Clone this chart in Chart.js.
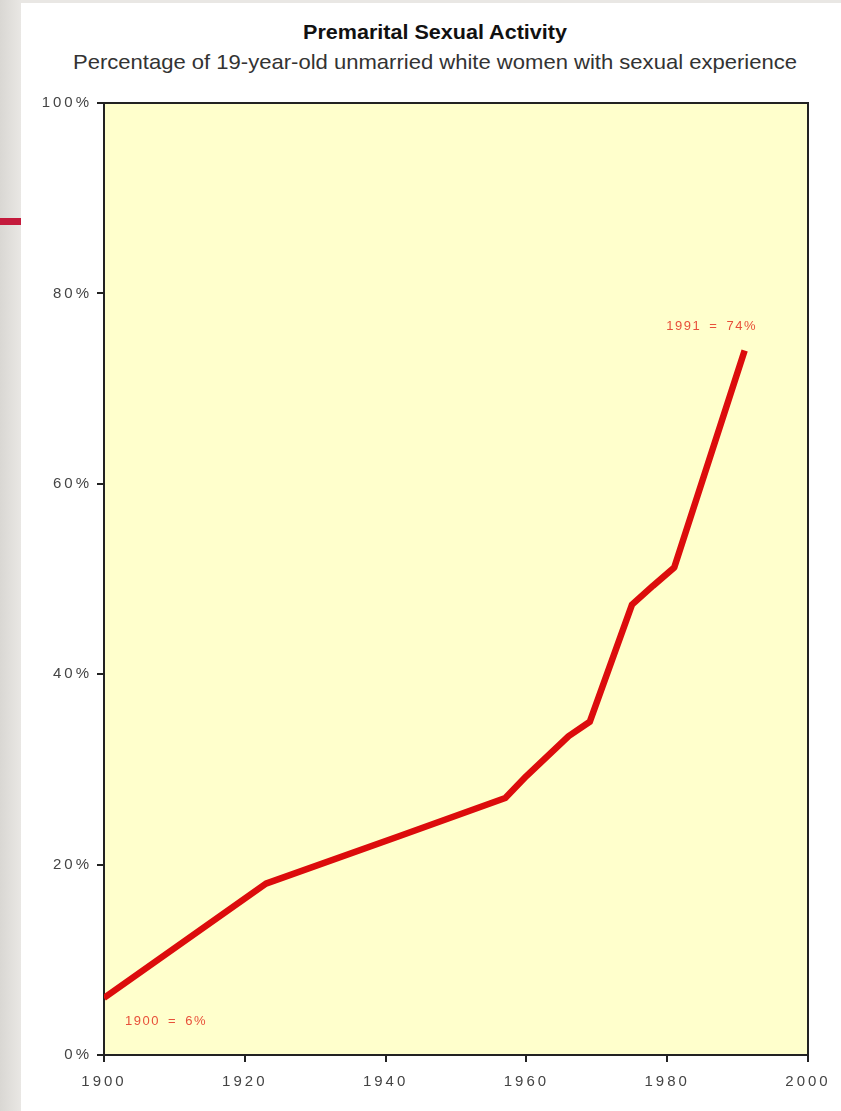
<!DOCTYPE html>
<html><head><meta charset="utf-8">
<script src="https://cdn.jsdelivr.net/npm/chart.js@4"></script>
<style>
html,body{margin:0;padding:0;}
body{width:841px;height:1111px;position:relative;overflow:hidden;background:linear-gradient(to right,#d9d7d3,#e9e7e4 21px);}
#panel{position:absolute;left:21px;top:3px;right:0;bottom:0;background:#fff;}
#redbar{position:absolute;left:0;top:218px;width:21px;height:7px;background:#c41a3c;}
.t{position:absolute;left:0;white-space:nowrap;font-family:Arial,"Liberation Sans",sans-serif;font-size:21px;line-height:21px;transform-origin:0 0;}
#title{font-weight:bold;color:#111;top:21px;}
#subtitle{color:#333;top:51px;}
canvas{position:absolute;left:0;top:0;}
</style></head>
<body>
<div id="panel"></div><div id="redbar"></div>
<div class="t" id="title"></div>
<div class="t" id="subtitle"></div>
<canvas id="c" width="841" height="1111"></canvas>
<script>
const titleText = 'Premarital Sexual Activity';
const subtitleText = 'Percentage of 19-year-old unmarried white women with sexual experience';

const years    = [1900, 1923, 1942, 1957, 1960, 1966, 1969, 1975, 1978, 1981, 1991];
const percents = [6,    18,   23,   27,   29.3, 33.5, 35,   47.3, 49.3, 51.2, 74];

const xTicks = [1900, 1920, 1940, 1960, 1980, 2000];
const yTicks = [0, 20, 40, 60, 80, 100];

const annotYears  = [1900, 1991];
const annotValues = [6, 74];
const annotLabels = ['1900 = 6%', '1991 = 74%'];

// Title / subtitle as HTML text, compressed to match condensed face
function fitText(id, text, width, center) {
  const el = document.getElementById(id);
  el.textContent = text;
  const w = el.getBoundingClientRect().width;
  const s = width / w;
  el.style.transform = 'scaleX(' + s + ')';
  el.style.left = (center - width / 2) + 'px';
}
fitText('title', titleText, 264, 435);
fitText('subtitle', subtitleText, 724, 435);

const plotDecor = {
  id: 'plotDecor',
  beforeDraw(chart) {
    const ctx = chart.ctx, a = chart.chartArea;
    ctx.save();
    ctx.fillStyle = '#ffffcc';
    ctx.fillRect(a.left, a.top, a.right - a.left, a.bottom - a.top);
    ctx.restore();
    ctx.letterSpacing = '3px';
  },
  beforeDatasetsDraw(chart) {
    const ctx = chart.ctx, a = chart.chartArea;
    ctx.letterSpacing = '0px';
    ctx.save();
    ctx.strokeStyle = '#222';
    ctx.lineWidth = 2;
    ctx.strokeRect(a.left, a.top, a.right - a.left, a.bottom - a.top);
    ctx.restore();
  },
  afterDatasetsDraw(chart) {
    const ctx = chart.ctx;
    const xs = chart.scales.x, ys = chart.scales.y;
    ctx.save();
    ctx.letterSpacing = '1.5px';
    ctx.wordSpacing = '3px';
    ctx.font = '13px Arial, "Liberation Sans", sans-serif';
    ctx.fillStyle = '#e8503a';
    ctx.textBaseline = 'middle';
    annotLabels.forEach((lab, i) => {
      const px = xs.getPixelForValue(annotYears[i]);
      const py = ys.getPixelForValue(annotValues[i]);
      if (i === 0) {
        ctx.textAlign = 'left';
        ctx.fillText(lab, px + 21, py + 24);
      } else {
        ctx.textAlign = 'center';
        ctx.fillText(lab, px - 33, py - 24);
      }
    });
    ctx.restore();
  },
  afterDraw(chart) {
    chart.ctx.letterSpacing = '0px';
  }
};

new Chart(document.getElementById('c'), {
  type: 'line',
  data: {
    datasets: [{
      data: years.map((y, i) => ({ x: y, y: percents[i] })),
      borderColor: '#dc0c0c',
      borderWidth: 6.5,
      pointRadius: 0,
      tension: 0,
      borderCapStyle: 'butt',
      borderJoinStyle: 'round',
      fill: false
    }]
  },
  options: {
    responsive: false,
    animation: false,
    devicePixelRatio: 1,
    layout: { padding: { left: 34, top: 103, right: 33, bottom: 6 } },
    plugins: { legend: { display: false }, tooltip: { enabled: false } },
    scales: {
      x: {
        type: 'linear', min: 1900, max: 2000,
        afterBuildTicks: s => { s.ticks = xTicks.map(v => ({ value: v })); },
        afterFit: s => { s.height = 50; },
        border: { display: false },
        grid: { drawOnChartArea: false, drawTicks: true, tickLength: 7, color: '#222', lineWidth: 2 },
        ticks: { callback: v => String(v), color: '#444', padding: 11, maxRotation: 0,
                 font: { family: 'Arial, "Liberation Sans", sans-serif', size: 15 } }
      },
      y: {
        type: 'linear', min: 0, max: 100,
        afterBuildTicks: s => { s.ticks = yTicks.map(v => ({ value: v })); },
        afterFit: s => { s.width = 70; },
        border: { display: false },
        grid: { drawOnChartArea: false, drawTicks: true, tickLength: 7, color: '#222', lineWidth: 2 },
        ticks: { callback: v => v + '%', color: '#444', padding: 5,
                 font: { family: 'Arial, "Liberation Sans", sans-serif', size: 15 } }
      }
    }
  },
  plugins: [plotDecor]
});
</script>
</body></html>
